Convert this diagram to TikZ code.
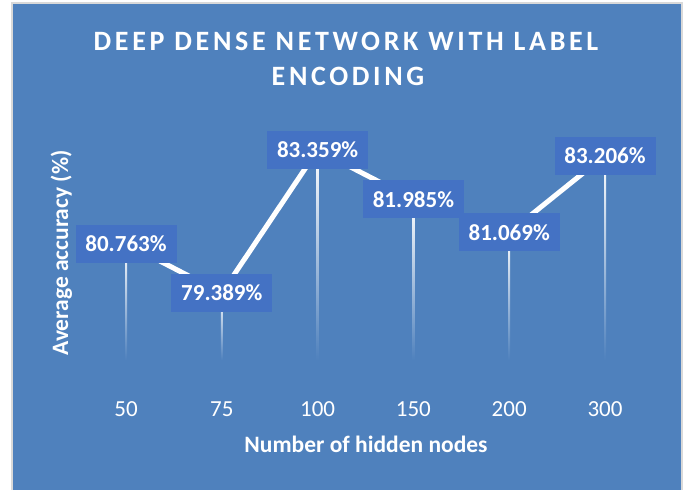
\documentclass[tikz,border=0pt]{standalone}
\usepackage{fontspec}
\setmainfont{Carlito}
\newfontfamily\titlefont{Carlito}[LetterSpace=13]
\definecolor{chartbg}{HTML}{4F81BD}
\definecolor{labelbg}{HTML}{4472C4}
\definecolor{edgegray}{HTML}{D9D9D9}
\begin{document}
\begin{tikzpicture}[x=1pt,y=-1pt,line join=round,line cap=round,
	ticktext/.style={text=white,inner sep=0pt,font=\fontsize{23}{27}\selectfont},
	axistitle/.style={text=white,inner sep=0pt,font=\fontsize{23.5}{27}\selectfont\bfseries},
	charttitle/.style={text=white,inner sep=0pt,font=\titlefont\fontsize{28}{34}\selectfont\bfseries},
	vallabel/.style={fill=labelbg,text=white,inner sep=0pt,minimum width=101pt,minimum height=38pt,font=\fontsize{23}{27}\selectfont\bfseries}]
	
	\useasboundingbox (0,0) rectangle (686,490);
	\fill[white] (0,0) rectangle (686,490);
	\fill[edgegray] (11,2) rectangle (683,490);
	\fill[chartbg] (12.5,3.5) rectangle (680.5,490);
	
	\node[charttitle,anchor=base] (title1) at (346,50.7) {DEEP DENSE NETWORK WITH LABEL};
	\node[charttitle,anchor=base] (title2) at (348,85) {ENCODING};
	
	\def\ybase{360}
	\foreach \n/\v/\t in {1/80.763/50,2/79.389/75,3/83.359/100,4/81.985/150,5/81.069/200,6/83.206/300}
	{
		\pgfmathsetmacro\px{126+95.8*(\n-1)}
		\pgfmathsetmacro\py{293-(\v-79.389)*36.02}
		\coordinate (p\n) at (\px,\py);
		\coordinate (b\n) at (\px,\ybase);
		\shade[top color=white,bottom color=chartbg] (\px-1,\py) rectangle (\px+1,\ybase);
		\node[ticktext,anchor=base] (tick\n) at (\px,416) {\t};
	}
	
	\draw[white,line width=5pt] (p1)--(p2)--(p3)--(p4)--(p5)--(p6);
	
	\foreach \n/\v in {1/80.763,2/79.389,3/83.359,4/81.985,5/81.069,6/83.206}
	\node[vallabel] (lab\n) at (p\n) {\v\%};
	
	\node[axistitle,anchor=base] (xtitle) at (366,452.7) {Number of hidden nodes};
	\node[axistitle,rotate=90,anchor=base] (ytitle) at (68,253) {Average accuracy (\%)};
\end{tikzpicture}
\end{document}
